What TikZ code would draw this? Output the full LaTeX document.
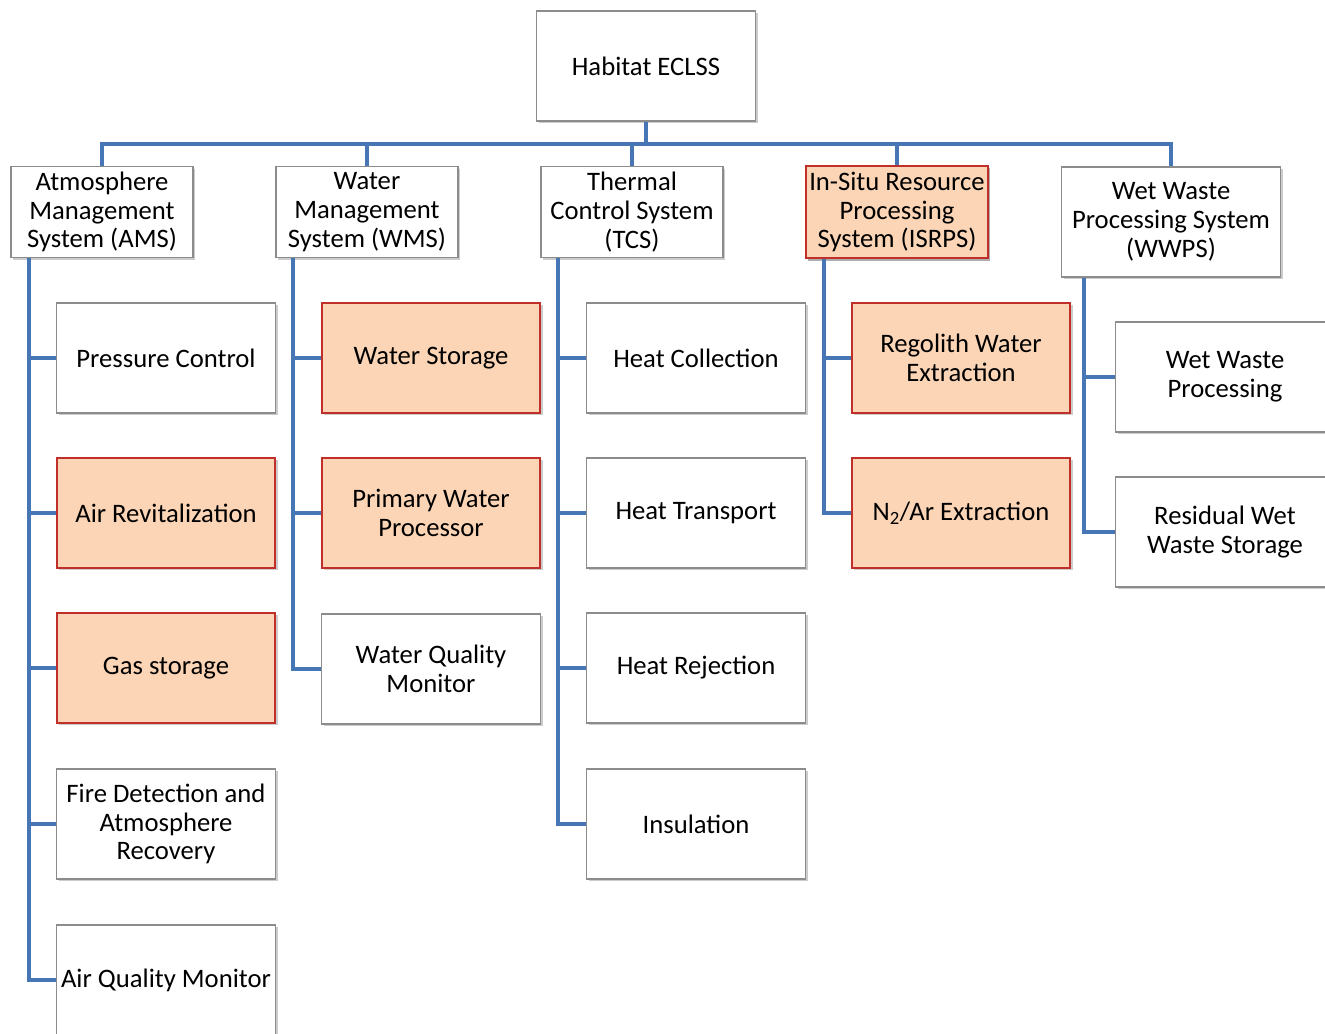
\documentclass[tikz,border=0pt]{standalone}
\usepackage{fontspec}
\setmainfont{Carlito}
\usepackage{tikz}
\usetikzlibrary{calc, shadows}
\usepackage{xcolor}
\definecolor{linkblue}{HTML}{4676B4}
\definecolor{boxgray}{HTML}{8C8C8C}
\definecolor{hlfill}{HTML}{FBD5B5}
\definecolor{hlred}{HTML}{C0302B}

\begin{document}
\begin{tikzpicture}[x=0.75pt, y=-0.75pt,
    font=\fontsize{20}{21.6}\selectfont,
    box/.style={draw=boxgray, line width=0.8pt, fill=white, align=center, inner sep=0pt,
      minimum width=164pt, minimum height=82.5pt,
      drop shadow={shadow xshift=1.8pt, shadow yshift=-1.8pt, opacity=0.4}},
    hlbox/.style={box, draw=hlred, fill=hlfill, line width=1.3pt},
    topbox/.style={box, minimum width=136.5pt, minimum height=68.5pt},
    link/.style={linkblue, line width=3pt}]
  \useasboundingbox (0,0) rectangle (1325,1034);
  \clip (0,0) rectangle (1325,1034);
  % root and first level
  \node[box] (eclss) at (646,66) {Habitat ECLSS};
  \node[topbox] (ams) at (102,212) {Atmosphere\\Management\\System (AMS)};
  \node[topbox] (wms) at (367,212) {Water\\Management\\System (WMS)};
  \node[topbox] (tcs) at (632,212) {Thermal\\Control System\\(TCS)};
  \node[topbox, hlbox, minimum width=136.5pt, minimum height=69.5pt] (isrps) at (897,212) {In-Situ Resource\\Processing\\System (ISRPS)};
  \node[box] (wwps) at (1171,222) {Wet Waste\\Processing System\\(WWPS)};
  \coordinate (bus) at (646,144);
  \draw[link] (ams.north) |- (bus) -| (wwps.north);
  \draw[link] (eclss.south) -- (eclss.south |- bus);
  \foreach \p in {wms, tcs, isrps}
    \draw[link] (\p.north) -- (\p.north |- bus);
  \foreach \p/\dx in {ams/19, wms/18, tcs/18, isrps/19, wwps/23}
    \coordinate (\p rail) at ($(\p.south west)+(\dx,0)$);
  % second level
  \foreach \nm/\st/\y/\txt in {pc/box/358/{Pressure Control}, ar/hlbox/513/{Air Revitalization},
      gs/hlbox/668/{Gas storage}, fd/box/824/{Fire Detection and\\Atmosphere\\Recovery},
      aq/box/980/{Air Quality Monitor}} {
    \node[\st] (\nm) at (166,\y) {\txt};
    \draw[link] (amsrail) |- (\nm.west);
  }
  \foreach \nm/\st/\y/\txt in {ws/hlbox/358/{Water Storage}, pw/hlbox/513/{Primary Water\\Processor},
      wq/box/669/{Water Quality\\Monitor}} {
    \node[\st] (\nm) at (431,\y) {\txt};
    \draw[link] (wmsrail) |- (\nm.west);
  }
  \foreach \nm/\y/\txt in {hc/358/{Heat Collection}, ht/513/{Heat Transport},
      hr/668/{Heat Rejection}, ins/824/{Insulation}} {
    \node[box] (\nm) at (696,\y) {\txt};
    \draw[link] (tcsrail) |- (\nm.west);
  }
  \foreach \nm/\y/\txt in {rw/358/{Regolith Water\\Extraction}, na/513/{N\textsubscript{2}/Ar Extraction}} {
    \node[hlbox] (\nm) at (961,\y) {\txt};
    \draw[link] (isrpsrail) |- (\nm.west);
  }
  \foreach \nm/\y/\txt in {wp/377/{Wet Waste\\Processing}, rs/532/{Residual Wet\\Waste Storage}} {
    \node[box] (\nm) at (1225,\y) {\txt};
    \draw[link] (wwpsrail) |- (\nm.west);
  }
\end{tikzpicture}
\end{document}
